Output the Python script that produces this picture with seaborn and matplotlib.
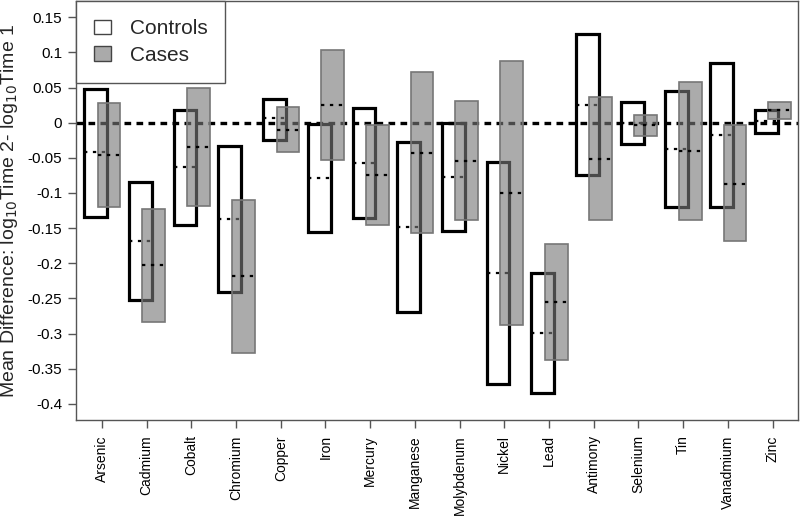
import numpy as np
import matplotlib
matplotlib.use("Agg")
import matplotlib.pyplot as plt
import seaborn as sns
from matplotlib.patches import Patch

metals = ["Arsenic", "Cadmium", "Cobalt", "Chromium", "Copper", "Iron", "Mercury",
          "Manganese", "Molybdenum", "Nickel", "Lead", "Antimony", "Selenium",
          "Tin", "Vanadmium", "Zinc"]

ctrl_low  = [-0.134, -0.252, -0.1455, -0.241, -0.024, -0.155, -0.135, -0.270, -0.154, -0.372, -0.384, -0.0744, -0.030, -0.120, -0.1195, -0.015]
ctrl_high = [0.048, -0.085, 0.0185, -0.033, 0.034, -0.002, 0.0205, -0.0275, 0.000, -0.056, -0.214, 0.126, 0.030, 0.045, 0.085, 0.0185]
ctrl_mean = [-0.042, -0.168, -0.0635, -0.137, 0.006, -0.079, -0.057, -0.148, -0.077, -0.214, -0.299, 0.025, 0.000, -0.0374, -0.0175, 0.003]

case_low  = [-0.120, -0.283, -0.1185, -0.3276, -0.042, -0.0526, -0.146, -0.157, -0.139, -0.288, -0.338, -0.139, -0.0185, -0.139, -0.169, 0.0057]
case_high = [0.028, -0.123, 0.049, -0.110, 0.022, 0.103, -0.003, 0.072, 0.031, 0.087, -0.173, 0.0366, 0.011, 0.058, -0.004, 0.030]
case_mean = [-0.046, -0.203, -0.034, -0.218, -0.010, 0.025, -0.074, -0.043, -0.0545, -0.100, -0.2555, -0.0516, -0.004, -0.040, -0.087, 0.018]

yticks = [0.15, 0.1, 0.05, 0, -0.05, -0.1, -0.15, -0.2, -0.25, -0.3, -0.35, -0.4]
ytick_labels = ["0.15", "0.1", "0.05", "0", "-0.05", "-0.1", "-0.15", "-0.2", "-0.25", "-0.3", "-0.35", "-0.4"]

sns.set_theme(style="ticks")
plt.rcParams["font.family"] = ["Liberation Sans", "DejaVu Sans"]

fig = plt.figure(figsize=(8, 5.2), dpi=100)
ax = fig.add_axes([0.095, 0.1923, 0.9025, 0.8057])

x = np.arange(len(metals))
w = 0.51
xc = x - 0.14
xs = x + 0.16

ax.axhline(0, color="black", lw=2.4, linestyle=(0, (2, 1.6)), zorder=1)

c_low = np.array(ctrl_low); c_high = np.array(ctrl_high)
s_low = np.array(case_low); s_high = np.array(case_high)

ax.bar(xc, c_high - c_low, bottom=c_low, width=w, facecolor="none",
       edgecolor="black", linewidth=2.3, zorder=2)
ax.hlines(ctrl_mean, xc - w / 2, xc + w / 2, colors="black", linewidth=1.6,
          linestyles=(0, (1.5, 2.5)), zorder=3)
ax.bar(xs, s_high - s_low, bottom=s_low, width=w, facecolor=(0.47, 0.47, 0.47, 0.62),
       edgecolor="#777777", linewidth=1.2, zorder=4)
ax.hlines(case_mean, xs - w / 2, xs + w / 2, colors="black", linewidth=1.6,
          linestyles=(0, (1.5, 2.5)), zorder=5)

ax.set_xlim(-0.58, 15.57)
ax.set_ylim(-0.423, 0.173)
ax.set_xticks(x)
ax.set_xticklabels(metals, rotation=90)
ax.set_yticks(yticks)
ax.set_yticklabels(ytick_labels)

for s in ax.spines.values():
    s.set_visible(True)
    s.set_color("#555555")
    s.set_linewidth(1.0)
ax.tick_params(axis="both", direction="out", length=6, width=1,
               color="#555555", labelcolor="black")
ax.tick_params(axis="y", labelsize=11, pad=4)
ax.tick_params(axis="x", labelsize=10, pad=5)

ax.set_ylabel(r"Mean Difference: log$_{10}$Time 2- log$_{10}$Time 1", fontsize=14)
ax.yaxis.set_label_coords(-0.077, 0.5)

handles = [Patch(facecolor="white", edgecolor="#444444", linewidth=1),
           Patch(facecolor="#aaaaaa", edgecolor="#444444", linewidth=1)]
leg = ax.legend(handles, ["Controls", "Cases"], loc="upper left", bbox_to_anchor=(0, 1),
                borderaxespad=0, fontsize=15, frameon=True, fancybox=False,
                framealpha=1, edgecolor="#555555", handlelength=0.8, handleheight=0.7,
                handletextpad=0.9, borderpad=0.87, labelspacing=0.37)
leg.get_frame().set_linewidth(1.0)
leg.set_zorder(10)

fig.savefig("out.png", dpi=100)
